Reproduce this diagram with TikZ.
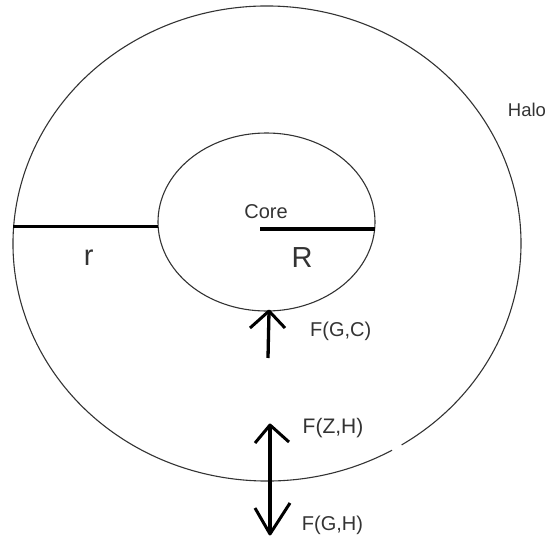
\documentclass[tikz,border=0pt]{standalone}
\usepackage{fontspec}
\setmainfont{Liberation Sans}
\begin{document}
\begin{tikzpicture}[x=1pt,y=-1pt,
  thinline/.style={line width=1.1pt, draw=black!80},
  thickline/.style={line width=3.3pt, draw=black},
  headline/.style={line width=3pt, draw=black, line join=round},
  lbl/.style={text=black!80, inner sep=0pt, anchor=base},
  small/.style={font=\fontsize{20}{24}\selectfont},
  big/.style={font=\fontsize{29}{34}\selectfont},
]
\useasboundingbox (0,0) rectangle (551,535);
% outer halo (with small gap lower right)
\coordinate (oc) at (267,243.5);
\draw[thinline] ([shift={(oc)}]60.5:254 and 237.5) arc[start angle=60.5, end angle=418, x radius=254, y radius=237.5];
% core
\coordinate (ic) at (266.5,222);
\draw[thinline] (ic) ellipse [x radius=108.5, y radius=89];
% radius lines
\coordinate (rA) at (13,226.5);
\coordinate (rB) at (158,226.5);
\coordinate (RA) at (260,229);
\coordinate (RB) at (375,229);
\draw[thickline] (rA) -- (rB);
\draw[thickline] (RA) -- (RB);
% F(G,C) arrow
\coordinate (gcTip) at (269,311);
\coordinate (gcBot) at (268,358);
\coordinate (gcL) at (250,328);
\coordinate (gcR) at (285,328);
\draw[thickline] (gcBot) -- (gcTip);
\draw[headline] (gcL) -- (gcTip) -- (gcR);
% F(Z,H) / F(G,H) arrow
\coordinate (zhTip) at (270,425);
\coordinate (ghTip) at (270,534);
\coordinate (zhL) at (255,443);
\coordinate (zhR) at (289,442);
\coordinate (ghL) at (255,508);
\coordinate (ghR) at (290,503);
\draw[thickline] (zhTip) -- (ghTip);
\draw[headline] (zhL) -- (zhTip) -- (zhR);
\draw[headline] (ghL) -- (ghTip) -- (ghR);
% labels
\node[lbl, font=\fontsize{18.5}{22}\selectfont] (halo) at (527,116.7) {Halo};
\node[lbl, small] (core) at (266,218.3) {Core};
\node[lbl, big] (Rlab) at (302,267.3) {R};
\node[lbl, big] (rlab) at (88.7,265) {r};
\node[lbl, small, anchor=base west] (fgc) at (310,336.5) {F(G,C)};
\node[lbl, font=\fontsize{21}{25}\selectfont, anchor=base west] (fzh) at (302.5,433) {F(Z,H)};
\node[lbl, small, anchor=base west] (fgh) at (301.7,530) {F(G,H)};
\end{tikzpicture}
\end{document}
